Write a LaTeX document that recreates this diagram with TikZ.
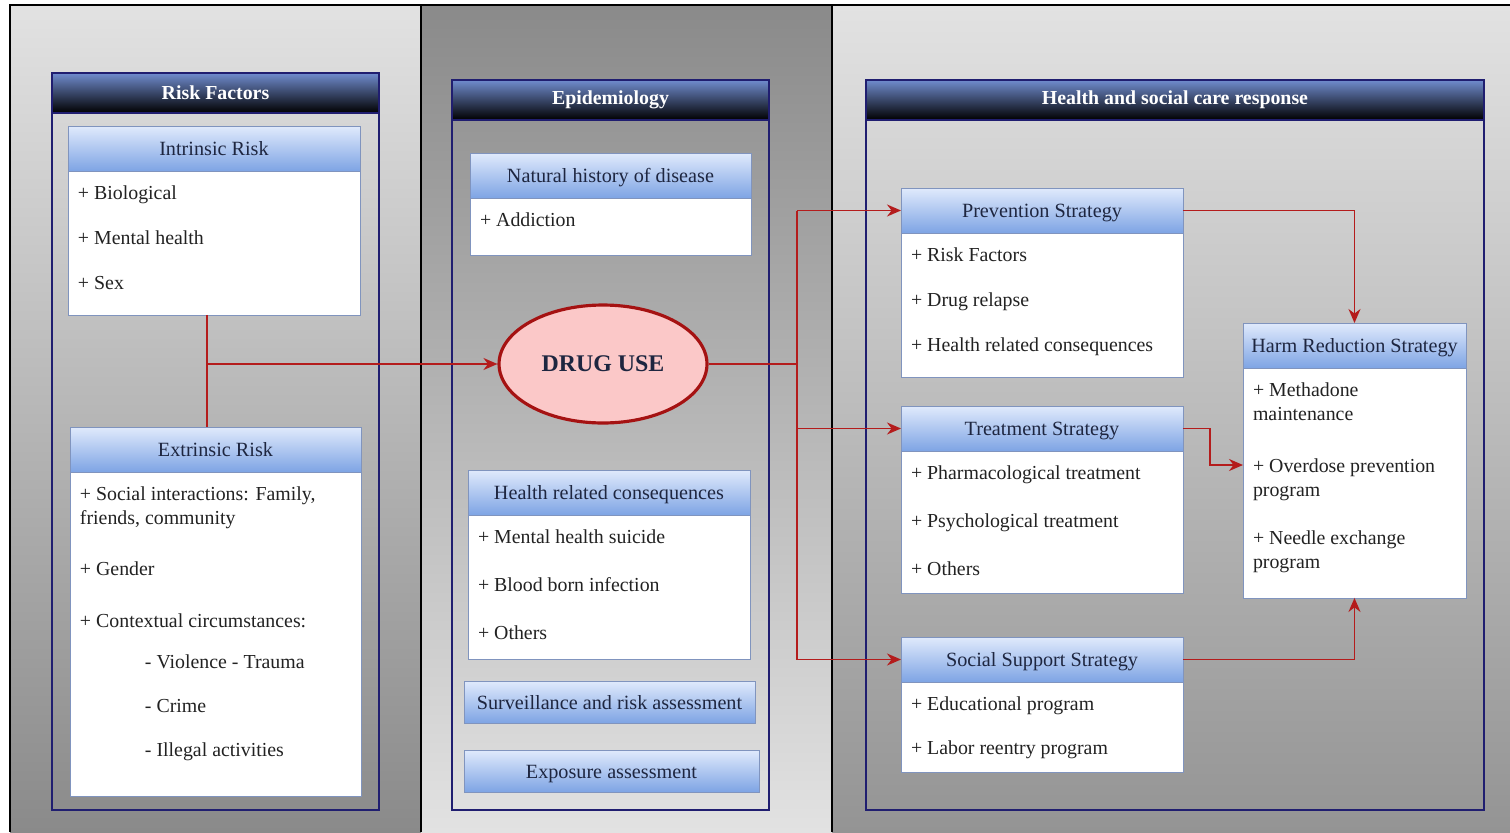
\documentclass[tikz,border=0pt]{standalone}
\usepackage{fontspec}
\setmainfont{Liberation Serif}
\usetikzlibrary{shapes.geometric,arrows,arrows.meta,positioning}
\definecolor{headtop}{RGB}{224,234,252}
\definecolor{headbot}{RGB}{126,164,228}
\definecolor{boxedge}{RGB}{128,148,190}
\definecolor{frameedge}{RGB}{32,30,112}
\definecolor{framebar}{RGB}{112,140,206}
\definecolor{linkred}{RGB}{180,28,28}
\definecolor{drugfill}{RGB}{251,200,200}
\definecolor{drugedge}{RGB}{165,18,18}
\definecolor{headtext}{RGB}{30,38,64}
\definecolor{bodytext}{RGB}{34,34,34}
\definecolor{lightpanel}{RGB}{226,226,226}
\definecolor{darkpanel}{RGB}{138,138,138}
\definecolor{midpanel}{RGB}{148,148,148}

\tikzset{
  boxhead/.style={draw=boxedge, top color=headtop, bottom color=headbot,
    minimum height=0.9cm, inner sep=0pt, outer sep=0pt, text=headtext,
    text height=8pt, text depth=0pt, font=\fontsize{11.5}{13}\selectfont},
  boxbody/.style={draw=boxedge, fill=white, inner xsep=0.2cm, inner ysep=0.3cm,
    outer sep=0pt, text=bodytext, font=\fontsize{11.3}{13.6}\selectfont},
  framebox/.style={draw=frameedge, line width=1pt, inner sep=0pt, outer sep=0pt},
  framehead/.style={draw=frameedge, line width=1pt, top color=framebar, bottom color=black,
    minimum height=0.8cm, inner sep=0pt, outer sep=0pt, text=white,
    font=\bfseries\fontsize{11.3}{13}\selectfont},
  link/.style={draw=linkred, line width=1.1pt},
  linkarrow/.style={link, -{Stealth[length=2.8mm,width=2.4mm]}}
}

% #1 name, #2 title, #3 top left, #4 width (cm), #5 body height (cm), #6 items
\newcommand{\umlbox}[6]{%
  \node[boxhead, minimum width=#4cm, anchor=north west] (#1) at (#3) {#2};
  \node[boxbody, anchor=north west] (#1Body) at (#1.south west)
    {\begin{minipage}[t][\dimexpr#5cm-0.6cm\relax][t]{\dimexpr#4cm-0.4cm\relax}#6\end{minipage}};}

% #1 name, #2 title, #3 top left, #4 width (cm), #5 height (cm)
\newcommand{\frameblock}[5]{%
  \node[framebox, minimum width=#4cm, minimum height=#5cm, anchor=north west] (#1) at (#3) {};
  \node[framehead, minimum width=#4cm, anchor=north west] (#1Head) at (#1.north west) {#2};}

\begin{document}
\begin{tikzpicture}[x=0.02cm, y=-0.02cm]
\useasboundingbox (0,0) rectangle (1510,832);
\fill[white] (0,0) rectangle (1510,832);
\shade[top color=lightpanel, bottom color=darkpanel] (10,5) rectangle (421,832);
\shade[top color=darkpanel, bottom color=lightpanel] (421,5) rectangle (832,832);
\shade[top color=lightpanel, bottom color=midpanel] (832,5) rectangle (1510,832);
\draw[black, line width=0.8pt] (10,832) -- (10,5) -- (1510,5);
\draw[black, line width=0.8pt] (421,5) -- (421,832);
\draw[black, line width=0.8pt] (832,5) -- (832,832);

\frameblock{RiskFactors}{Risk Factors}{52,73}{6.54}{14.74}
\frameblock{Epidemiology}{Epidemiology}{452,80}{6.34}{14.6}
\frameblock{Response}{Health and social care response}{866,80}{12.36}{14.6}

\umlbox{Intrinsic}{Intrinsic Risk}{68,126}{5.84}{2.88}
  {+ Biological\\[11.9pt]+ Mental health\\[11.9pt]+ Sex}
\umlbox{Extrinsic}{Extrinsic Risk}{70,427}{5.82}{6.48}
  {+ Social interactions: Family,\\friends, community\\[15.3pt]+ Gender\\[15.9pt]
   + Contextual circumstances:\\[9.6pt]\hspace*{1.3cm}- Violence - Trauma\\[11.9pt]
   \hspace*{1.3cm}- Crime\\[11.3pt]\hspace*{1.3cm}- Illegal activities}

\umlbox{NatHistory}{Natural history of disease}{470,153}{5.62}{1.14}
  {+ Addiction}
\node[ellipse, draw=drugedge, line width=1.8pt, fill=drugfill, minimum width=4.16cm,
  minimum height=2.36cm, font=\bfseries\fontsize{13.6}{15}\selectfont, text=headtext]
  (DrugUse) at (603,364) {DRUG USE};
\umlbox{HealthCons}{Health related consequences}{468,470}{5.64}{2.88}
  {+ Mental health suicide\\[13.6pt]+ Blood born infection\\[13.6pt]+ Others}
\node[boxhead, minimum width=5.82cm, minimum height=0.84cm, anchor=north west]
  (Surveillance) at (464,681) {Surveillance and risk assessment};
\node[boxhead, minimum width=5.9cm, minimum height=0.84cm, anchor=north west]
  (Exposure) at (464,750) {Exposure assessment};

\umlbox{Prevention}{Prevention Strategy}{901,188}{5.64}{2.88}
  {+ Risk Factors\\[11.9pt]+ Drug relapse\\[11.9pt]+ Health related consequences}
\umlbox{Treatment}{Treatment Strategy}{901,406}{5.64}{2.84}
  {+ Pharmacological treatment\\[13.6pt]+ Psychological treatment\\[13.6pt]+ Others}
\umlbox{SocSupport}{Social Support Strategy}{901,637}{5.64}{1.8}
  {+ Educational program\\[11.3pt]+ Labor reentry program}
\umlbox{HarmReduction}{Harm Reduction Strategy}{1243,323}{4.46}{4.6}
  {+ Methadone\\maintenance\\[15.9pt]+ Overdose prevention\\program\\[13.6pt]
   + Needle exchange\\program}

\coordinate (RiskJoin) at (207,364);
\coordinate (DrugJoin) at (797,364);
\coordinate (HarmIn) at (HarmReductionBody.west |- 0,465);
\draw[link] (IntrinsicBody.south -| RiskJoin) -- (Extrinsic.north -| RiskJoin);
\draw[linkarrow] (RiskJoin) -- (DrugUse.west);
\draw[link] (DrugUse.east) -- (DrugJoin);
\draw[link] (Prevention.west -| DrugJoin) -- (SocSupport.west -| DrugJoin);
\draw[linkarrow] (Prevention.west -| DrugJoin) -- (Prevention.west);
\draw[linkarrow] (Treatment.west -| DrugJoin) -- (Treatment.west);
\draw[linkarrow] (SocSupport.west -| DrugJoin) -- (SocSupport.west);
\draw[linkarrow] (Prevention.east) -| (HarmReduction.north);
\draw[linkarrow] (Treatment.east) -- ++(27,0) |- (HarmIn);
\draw[linkarrow] (SocSupport.east) -| (HarmReductionBody.south);
\end{tikzpicture}
\end{document}
